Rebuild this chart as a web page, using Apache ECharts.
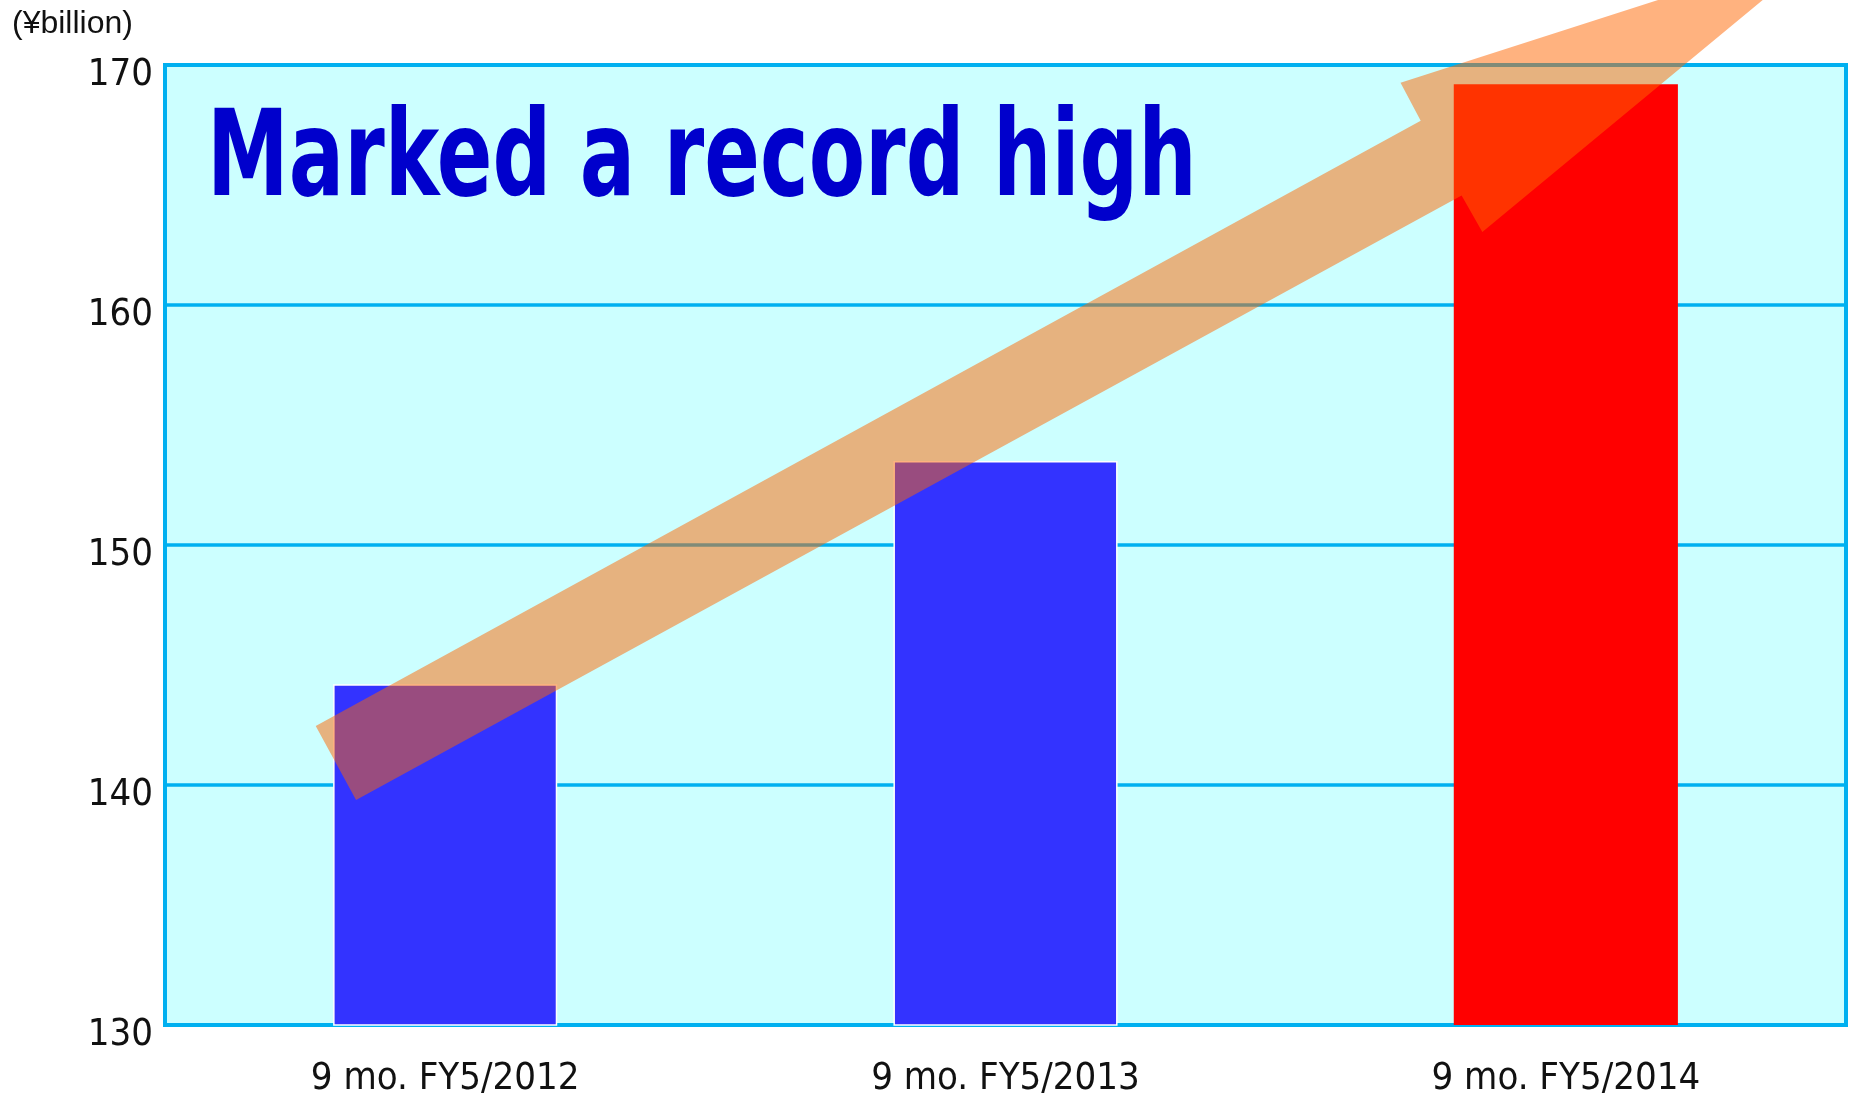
<!DOCTYPE html>
<html>
<head>
<meta charset="utf-8">
<script src="https://cdn.jsdelivr.net/npm/echarts@6/dist/echarts.min.js"></script>
<style>
  html, body { margin: 0; padding: 0; background: #ffffff; }
  #chart { width: 1861px; height: 1098px; }
</style>
</head>
<body>
<div id="chart"></div>
<script>
// Net sales for the first nine months of each fiscal year
const categories = ['9 mo. FY5/2012', '9 mo. FY5/2013', '9 mo. FY5/2014'];
const netSales = [144.2, 153.5, 169.2];
const yTicks = [130, 140, 150, 160, 170];
const headline = 'Marked a record high';
const unitLabel = '(¥billion)';
// Trend arrow outline in data units: [category position, ¥billion]
const trendArrow = [
  [-0.231, 142.46],
  [1.741, 167.68],
  [1.705, 169.26],
  [2.470, 175.00],
  [1.851, 163.04],
  [1.814, 164.56],
  [-0.159, 139.37]
];

const LINE_BLUE = '#00B0F0';
const NARROW = '"DejaVu Sans Condensed", "Liberation Sans Narrow", sans-serif';
const lastIdx = netSales.length - 1;

const chart = echarts.init(document.getElementById('chart'), null, { renderer: 'canvas' });

chart.setOption({
  animation: false,
  backgroundColor: '#ffffff',
  grid: {
    left: 165, top: 65, width: 1681, height: 961,
    show: true,
    backgroundColor: '#CCFFFF',
    borderColor: LINE_BLUE,
    borderWidth: 4
  },
  xAxis: [
    {
      type: 'category',
      data: categories,
      axisLine: { show: false },
      axisTick: { show: false },
      axisLabel: {
        margin: 35,
        color: '#111111',
        fontFamily: NARROW,
        fontSize: 38
      }
    },
    {
      // helper axis so the arrow can be placed at fractional category positions
      type: 'value',
      min: -0.5,
      max: categories.length - 0.5,
      show: false
    }
  ],
  yAxis: {
    type: 'value',
    min: yTicks[0],
    max: yTicks[yTicks.length - 1],
    interval: yTicks[1] - yTicks[0],
    axisLine: { show: false },
    axisTick: { show: false },
    axisLabel: {
      margin: 12,
      color: '#111111',
      fontFamily: NARROW,
      fontSize: 38,
      verticalAlign: 'top',
      lineHeight: 20
    },
    splitLine: { lineStyle: { color: LINE_BLUE, width: 3.5 } }
  },
  series: [
    {
      type: 'bar',
      xAxisIndex: 0,
      barWidth: '40%',
      z: 3,
      data: netSales.map((v, i) => ({
        value: v,
        itemStyle: i === lastIdx
          ? { color: '#FF0000' }
          : { color: '#3333FF', borderColor: '#ffffff', borderWidth: 1.5 }
      }))
    },
    {
      type: 'custom',
      xAxisIndex: 1,
      yAxisIndex: 0,
      clip: false,
      silent: true,
      z: 10,
      data: [[0, yTicks[0]]],
      renderItem: function (params, api) {
        return {
          type: 'polygon',
          shape: { points: trendArrow.map(p => api.coord(p)) },
          style: { fill: 'rgba(255, 102, 0, 0.5)' }
        };
      }
    }
  ],
  graphic: [
    {
      type: 'text',
      x: 12,
      y: 24,
      style: {
        text: unitLabel,
        fontFamily: '"Liberation Sans", Arial, sans-serif',
        fontSize: 32,
        fill: '#111111',
        align: 'left',
        verticalAlign: 'middle'
      }
    },
    {
      type: 'text',
      x: 207,
      y: 164,
      scaleX: 0.767,
      z: 5,
      style: {
        text: headline,
        fontFamily: NARROW,
        fontWeight: 'bold',
        fontSize: 119,
        fill: '#0000CC',
        align: 'left',
        verticalAlign: 'middle'
      }
    }
  ]
});
</script>
</body>
</html>
